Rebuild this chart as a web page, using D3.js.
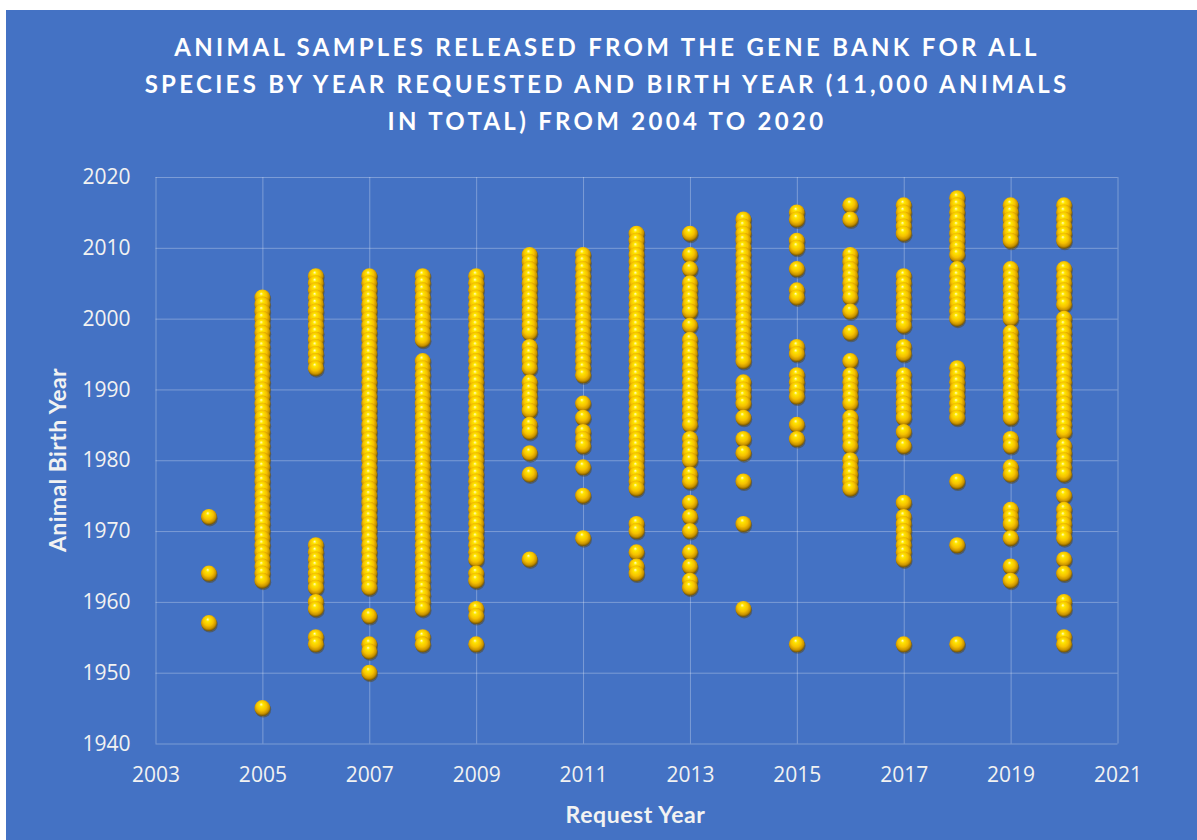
<!DOCTYPE html>
<head>
    <meta charset='utf-8'>
    <title>Gene bank samples by request year and birth year</title>
    <script src='https://d3js.org/d3.v7.min.js'></script>
    <style>
        html, body {
            margin: 0px;
            padding: 0px;
            background: #ffffff;
        }
        svg { display: block; }
        .tick text {
            font-family: 'Open Sans', sans-serif;
            font-size: 21px;
            fill: #f2f2f2;
        }
        .tick line {
            stroke: #ffffff;
            stroke-opacity: 0.3;
        }
    </style>
</head>

<body>
    <div id='chart'></div>

    <script>
        // request years on the x axis, birth years of the released animals for each one
        var requestYears = [2004, 2005, 2006, 2007, 2008, 2009, 2010, 2011, 2012,
                            2013, 2014, 2015, 2016, 2017, 2018, 2019, 2020];

        var births2004 = [1972, 1964, 1957];
        var births2005 = [2003, 2002, 2001, 2000, 1999, 1998, 1997, 1996, 1995, 1994, 1993, 1992, 1991, 1990,
                          1989, 1988, 1987, 1986, 1985, 1984, 1983, 1982, 1981, 1980, 1979, 1978, 1977, 1976,
                          1975, 1974, 1973, 1972, 1971, 1970, 1969, 1968, 1967, 1966, 1965, 1964, 1963, 1945];
        var births2006 = [2006, 2005, 2004, 2003, 2002, 2001, 2000, 1999, 1998, 1997, 1996, 1995, 1994, 1993,
                          1968, 1967, 1966, 1965, 1964, 1963, 1962, 1960, 1959, 1955, 1954];
        var births2007 = [2006, 2005, 2004, 2003, 2002, 2001, 2000, 1999, 1998, 1997, 1996, 1995, 1994, 1993,
                          1992, 1991, 1990, 1989, 1988, 1987, 1986, 1985, 1984, 1983, 1982, 1981, 1980, 1979,
                          1978, 1977, 1976, 1975, 1974, 1973, 1972, 1971, 1970, 1969, 1968, 1967, 1966, 1965,
                          1964, 1963, 1962, 1958, 1954, 1953, 1950];
        var births2008 = [2006, 2005, 2004, 2003, 2002, 2001, 2000, 1999, 1998, 1997, 1994, 1993, 1992, 1991,
                          1990, 1989, 1988, 1987, 1986, 1985, 1984, 1983, 1982, 1981, 1980, 1979, 1978, 1977,
                          1976, 1975, 1974, 1973, 1972, 1971, 1970, 1969, 1968, 1967, 1966, 1965, 1964, 1963,
                          1962, 1961, 1960, 1959, 1955, 1954];
        var births2009 = [2006, 2005, 2004, 2003, 2002, 2001, 2000, 1999, 1998, 1997, 1996, 1995, 1994, 1993,
                          1992, 1991, 1990, 1989, 1988, 1987, 1986, 1985, 1984, 1983, 1982, 1981, 1980, 1979,
                          1978, 1977, 1976, 1975, 1974, 1973, 1972, 1971, 1970, 1969, 1968, 1967, 1966, 1964,
                          1963, 1959, 1958, 1954];
        var births2010 = [2009, 2008, 2007, 2006, 2005, 2004, 2003, 2002, 2001, 2000, 1999, 1998, 1996, 1995,
                          1994, 1993, 1991, 1990, 1989, 1988, 1987, 1985, 1984, 1981, 1978, 1966];
        var births2011 = [2009, 2008, 2007, 2006, 2005, 2004, 2003, 2002, 2001, 2000, 1999, 1998, 1997, 1996,
                          1995, 1994, 1993, 1992, 1988, 1986, 1984, 1983, 1982, 1979, 1975, 1969];
        var births2012 = [2012, 2011, 2010, 2009, 2008, 2007, 2006, 2005, 2004, 2003, 2002, 2001, 2000, 1999,
                          1998, 1997, 1996, 1995, 1994, 1993, 1992, 1991, 1990, 1989, 1988, 1987, 1986, 1985,
                          1984, 1983, 1982, 1981, 1980, 1979, 1978, 1977, 1976, 1971, 1970, 1967, 1965, 1964];
        var births2013 = [2012, 2009, 2007, 2005, 2004, 2003, 2002, 2001, 1999, 1997, 1996, 1995, 1994, 1993,
                          1992, 1991, 1990, 1989, 1988, 1987, 1986, 1985, 1983, 1982, 1981, 1980, 1978, 1977,
                          1974, 1972, 1970, 1967, 1965, 1963, 1962];
        var births2014 = [2014, 2013, 2012, 2011, 2010, 2009, 2008, 2007, 2006, 2005, 2004, 2003, 2002, 2001,
                          2000, 1999, 1998, 1997, 1996, 1995, 1994, 1991, 1990, 1989, 1988, 1986, 1983, 1981,
                          1977, 1971, 1959];
        var births2015 = [2015, 2014, 2011, 2010, 2007, 2004, 2003, 1996, 1995, 1992, 1991, 1990, 1989, 1985,
                          1983, 1954];
        var births2016 = [2016, 2014, 2009, 2008, 2007, 2006, 2005, 2004, 2003, 2001, 1998, 1994, 1992, 1991,
                          1990, 1989, 1988, 1986, 1985, 1984, 1983, 1982, 1980, 1979, 1978, 1977, 1976];
        var births2017 = [2016, 2015, 2014, 2013, 2012, 2006, 2005, 2004, 2003, 2002, 2001, 2000, 1999, 1996,
                          1995, 1992, 1991, 1990, 1989, 1988, 1987, 1986, 1984, 1982, 1974, 1972, 1971, 1970,
                          1969, 1968, 1967, 1966, 1954];
        var births2018 = [2017, 2016, 2015, 2014, 2013, 2012, 2011, 2010, 2009, 2007, 2006, 2005, 2004, 2003,
                          2002, 2001, 2000, 1993, 1992, 1991, 1990, 1989, 1988, 1987, 1986, 1977, 1968, 1954];
        var births2019 = [2016, 2015, 2014, 2013, 2012, 2011, 2007, 2006, 2005, 2004, 2003, 2002, 2001, 2000,
                          1998, 1997, 1996, 1995, 1994, 1993, 1992, 1991, 1990, 1989, 1988, 1987, 1986, 1983,
                          1982, 1979, 1978, 1973, 1972, 1971, 1969, 1965, 1963];
        var births2020 = [2016, 2015, 2014, 2013, 2012, 2011, 2007, 2006, 2005, 2004, 2003, 2002, 2000, 1999,
                          1998, 1997, 1996, 1995, 1994, 1993, 1992, 1991, 1990, 1989, 1988, 1987, 1986, 1985,
                          1984, 1982, 1981, 1980, 1979, 1978, 1975, 1973, 1972, 1971, 1970, 1969, 1966, 1964,
                          1960, 1959, 1955, 1954];

        var birthLists = [births2004, births2005, births2006, births2007, births2008, births2009,
                          births2010, births2011, births2012, births2013, births2014, births2015,
                          births2016, births2017, births2018, births2019, births2020];

        var xTicks = [2003, 2005, 2007, 2009, 2011, 2013, 2015, 2017, 2019, 2021];
        var yTicks = [1940, 1950, 1960, 1970, 1980, 1990, 2000, 2010, 2020];

        var titleLines = ['ANIMAL SAMPLES RELEASED FROM THE GENE BANK FOR ALL',
                          'SPECIES BY YEAR REQUESTED AND BIRTH YEAR (11,000 ANIMALS',
                          'IN TOTAL) FROM 2004 TO 2020'];

        var points = [];
        requestYears.forEach(function(yr, i) {
            birthLists[i].forEach(function(b) { points.push({ x: yr, y: b }); });
        });

        var width = 1197, height = 840;
        var plotLeft = 155.5, plotRight = 1117.5, plotTop = 177, plotBottom = 743.5;

        var svg = d3.select('#chart').append('svg')
            .attr('width', width)
            .attr('height', height);

        var defs = svg.append('defs');

        // gold sphere look for the markers
        var grad = defs.append('radialGradient')
            .attr('id', 'gold')
            .attr('cx', '48%').attr('cy', '42%').attr('r', '58%')
            .attr('fx', '42%').attr('fy', '26%');
        grad.append('stop').attr('offset', '0%').attr('stop-color', '#fffbd0');
        grad.append('stop').attr('offset', '20%').attr('stop-color', '#ffe600');
        grad.append('stop').attr('offset', '55%').attr('stop-color', '#f5c000');
        grad.append('stop').attr('offset', '80%').attr('stop-color', '#c99400');
        grad.append('stop').attr('offset', '100%').attr('stop-color', '#6e4f00');

        svg.append('rect')
            .attr('x', 6).attr('y', 10)
            .attr('width', width - 6).attr('height', height - 10)
            .attr('fill', '#4472c4');

        var x = d3.scaleLinear().domain([2003, 2021]).range([plotLeft, plotRight]);
        var y = d3.scaleLinear().domain([1940, 2020]).range([plotBottom, plotTop]);

        var xAxis = svg.append('g')
            .attr('transform', 'translate(0,' + plotBottom + ')')
            .call(d3.axisBottom(x).tickValues(xTicks).tickFormat(d3.format('d'))
                .tickSize(-(plotBottom - plotTop)).tickPadding(24));
        xAxis.select('.domain').remove();

        var yAxis = svg.append('g')
            .attr('transform', 'translate(' + plotLeft + ',0)')
            .call(d3.axisLeft(y).tickValues(yTicks).tickFormat(d3.format('d'))
                .tickSize(-(plotRight - plotLeft)).tickPadding(25));
        yAxis.select('.domain').remove();

        // soft shadow under each sphere, then the spheres
        var dots = svg.append('g');
        dots.selectAll('circle.shadow')
            .data(points)
            .enter()
            .append('circle')
            .attr('class', 'shadow')
            .attr('cx', function(d) { return x(d.x) + 0.8; })
            .attr('cy', function(d) { return y(d.y) + 1.5; })
            .attr('r', 8)
            .attr('fill', '#5a4300')
            .attr('fill-opacity', 0.45);
        dots.selectAll('circle.ball')
            .data(points)
            .enter()
            .append('circle')
            .attr('class', 'ball')
            .attr('cx', function(d) { return x(d.x); })
            .attr('cy', function(d) { return y(d.y); })
            .attr('r', 8)
            .attr('fill', 'url(#gold)');

        // title
        svg.append('g').selectAll('text')
            .data(titleLines)
            .enter()
            .append('text')
            .attr('x', 607)
            .attr('y', function(d, i) { return 56 + i * 37; })
            .attr('text-anchor', 'middle')
            .attr('font-family', 'Lato, sans-serif')
            .attr('font-weight', 'bold')
            .attr('font-size', 24)
            .attr('letter-spacing', 3.3)
            .attr('fill', '#ffffff')
            .text(function(d) { return d; });

        svg.append('text')
            .attr('x', (plotLeft + plotRight) / 2 - 1)
            .attr('y', 823)
            .attr('text-anchor', 'middle')
            .attr('font-family', 'Lato, sans-serif')
            .attr('font-weight', 'bold')
            .attr('font-size', 23)
            .attr('letter-spacing', 0.6)
            .attr('fill', '#f2f2f2')
            .text('Request Year');

        svg.append('text')
            .attr('transform', 'translate(66,' + 460 + ') rotate(-90)')
            .attr('text-anchor', 'middle')
            .attr('font-family', 'Lato, sans-serif')
            .attr('font-weight', 'bold')
            .attr('font-size', 23)
            .attr('letter-spacing', 0.4)
            .attr('fill', '#f2f2f2')
            .text('Animal Birth Year');
    </script>
</body>
